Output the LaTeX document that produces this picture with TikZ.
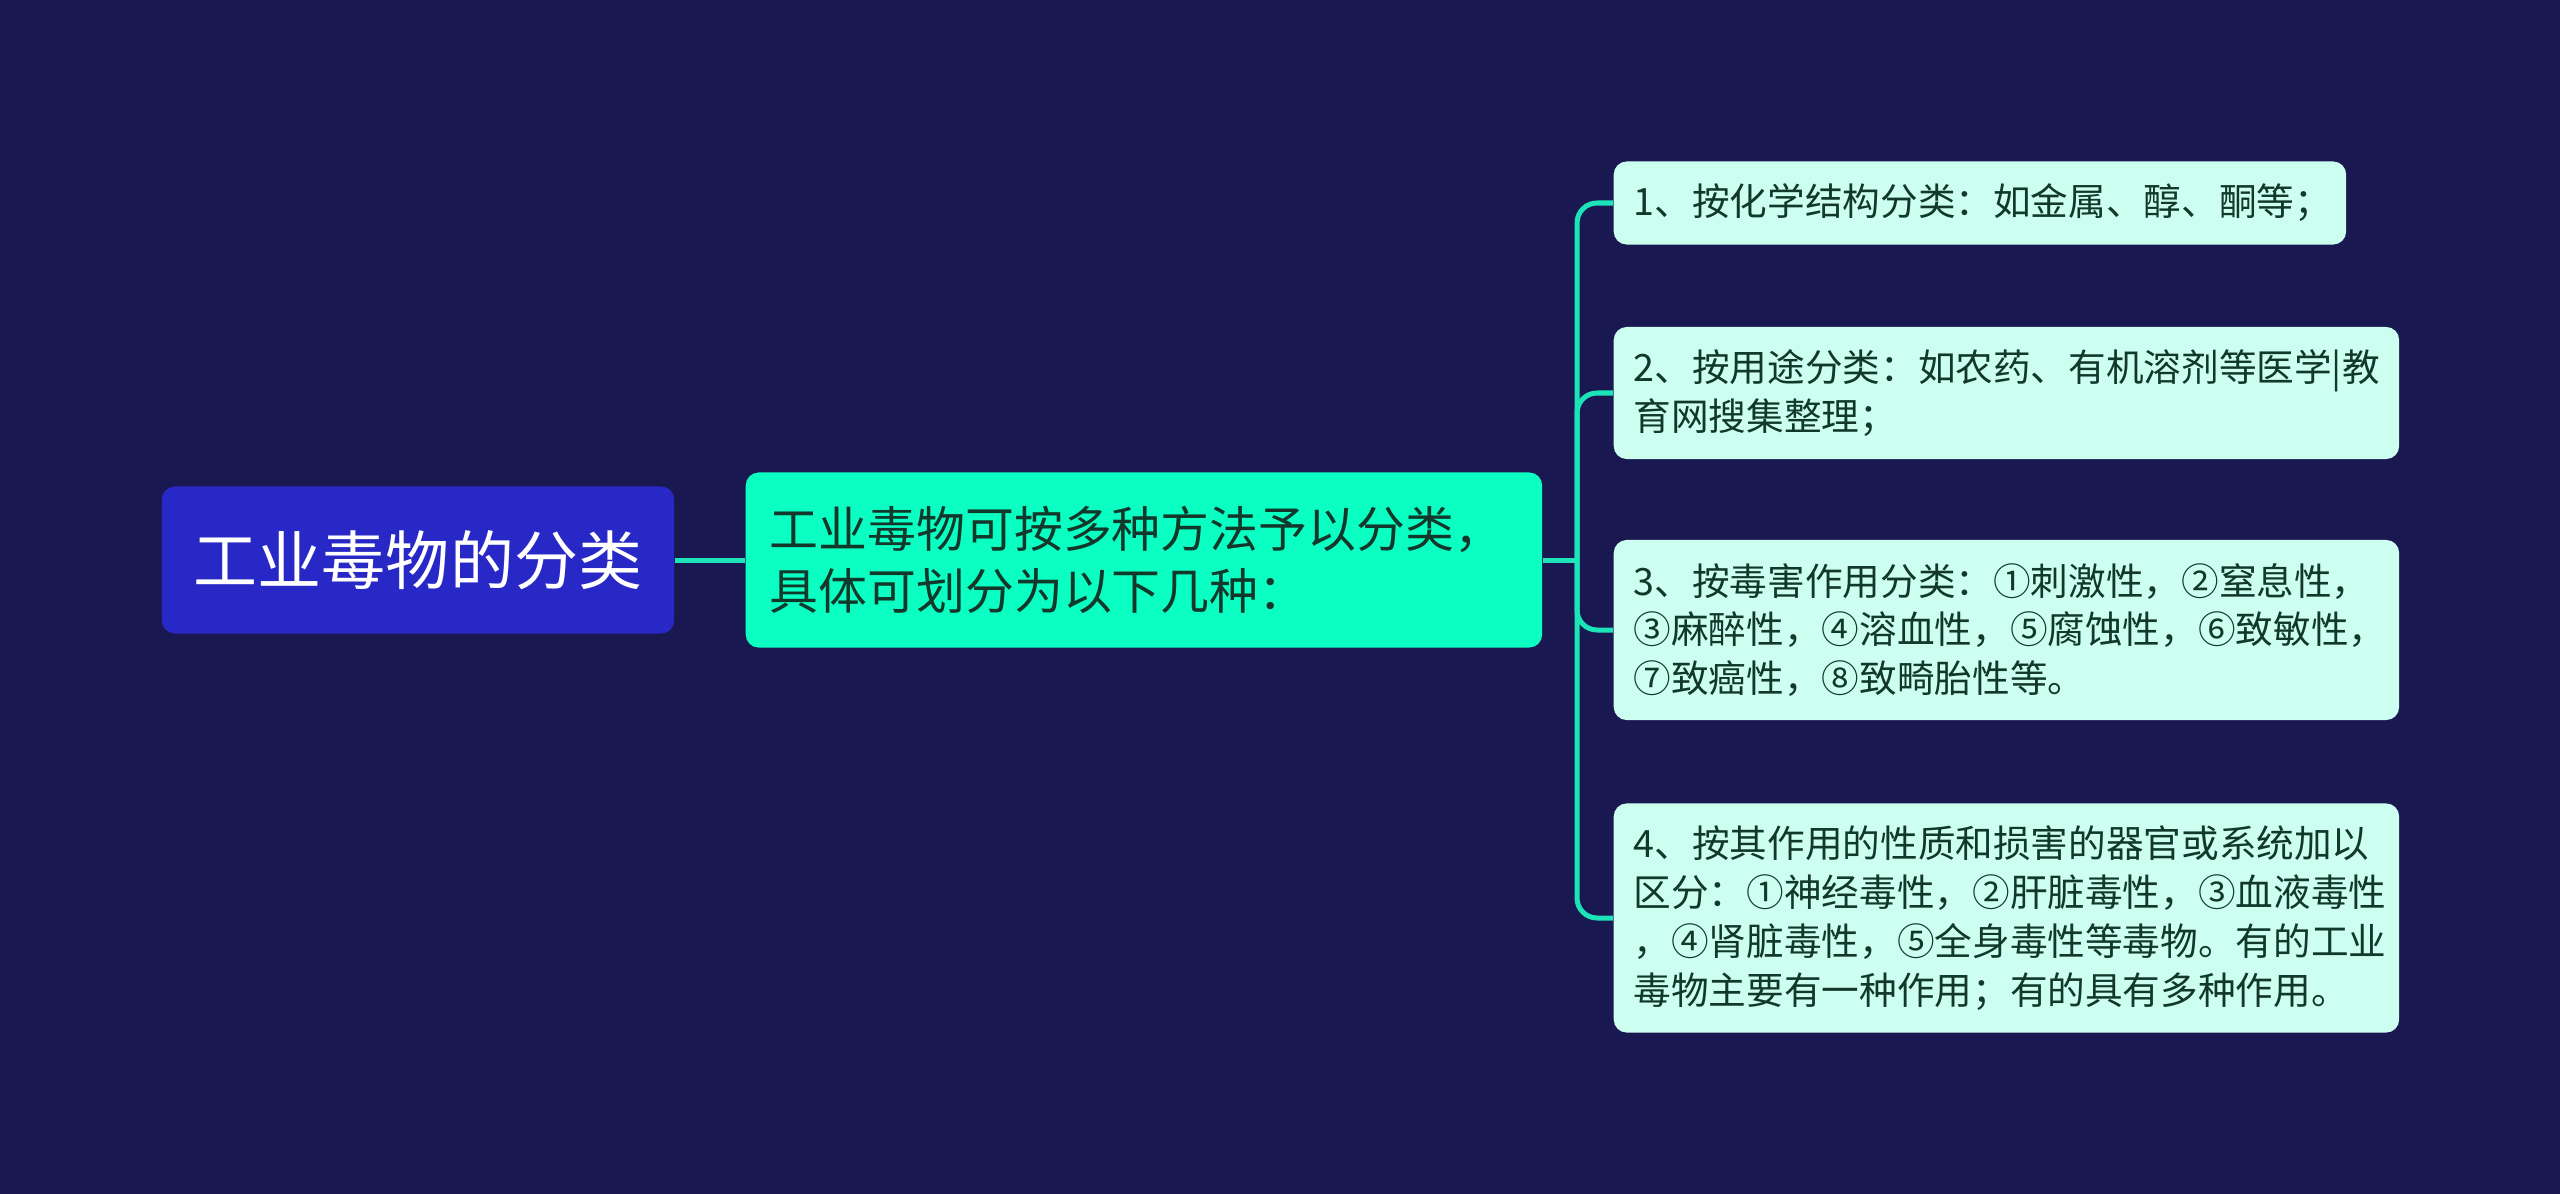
\documentclass[tikz,border=0pt]{standalone}
\usepackage{fontspec}
\setmainfont{Noto Sans CJK SC}
\definecolor{bgc}{HTML}{1A1850}
\definecolor{rootc}{HTML}{2828C6}
\definecolor{mainc}{HTML}{0CFFC2}
\definecolor{leafc}{HTML}{CCFFF0}
\definecolor{linec}{HTML}{1DE3B8}
\definecolor{txtc}{HTML}{12382C}
\tikzset{
  rootbox/.style={fill=rootc, rounded corners=0.13cm, text=white, minimum width=5.12cm, minimum height=1.47cm, font=\fontsize{18.2pt}{22pt}\selectfont, inner sep=0pt},
  mainbox/.style={fill=mainc, rounded corners=0.13cm, text=txtc, minimum width=7.96cm, minimum height=1.75cm, font=\fontsize{13.9pt}{17.6pt}\selectfont, align=left, anchor=west, inner xsep=0.24cm, inner ysep=0pt, text width=7.48cm},
  leafbox/.style={fill=leafc, rounded corners=0.13cm, text=txtc, anchor=west, font=\fontsize{10.7pt}{13.9pt}\selectfont, align=left, inner xsep=0.2cm, inner ysep=0pt},
  conn/.style={draw=linec, line width=0.05cm, rounded corners=0.2cm}
}
\begin{document}
\begin{tikzpicture}[x=0.01cm,y=-0.01cm]
\useasboundingbox[fill=bgc] (0,0) rectangle (2560,1194);
\node[rootbox] (root) at (418,560) {工业毒物的分类};
\node[mainbox] (main) at (745,560) {工业毒物可按多种方法予以分类，\\具体可划分为以下几种：};
\node[leafbox, minimum width=7.32cm, minimum height=0.83cm, text width=6.92cm] (l1) at (1613,203) {1、按化学结构分类：如金属、醇、酮等；};
\node[leafbox, minimum width=7.85cm, minimum height=1.32cm, text width=7.45cm] (l2) at (1613,393) {2、按用途分类：如农药、有机溶剂等医学|教\\育网搜集整理；};
\node[leafbox, minimum width=7.85cm, minimum height=1.80cm, text width=7.45cm] (l3) at (1613,630) {3、按毒害作用分类：①刺激性，②窒息性，\\③麻醉性，④溶血性，⑤腐蚀性，⑥致敏性，\\⑦致癌性，⑧致畸胎性等。};
\node[leafbox, minimum width=7.85cm, minimum height=2.29cm, text width=7.45cm] (l4) at (1613,918) {4、按其作用的性质和损害的器官或系统加以\\区分：①神经毒性，②肝脏毒性，③血液毒性\\，④肾脏毒性，⑤全身毒性等毒物。有的工业\\毒物主要有一种作用；有的具有多种作用。};
\draw[conn] (root.east) -- (main.west);
\coordinate (j) at (1577,560);
\draw[conn] (main.east) -- (j);
\draw[conn] (j) |- (l1.west);
\draw[conn] (j) |- (l2.west);
\draw[conn] (j) |- (l3.west);
\draw[conn] (j) |- (l4.west);
\end{tikzpicture}
\end{document}
